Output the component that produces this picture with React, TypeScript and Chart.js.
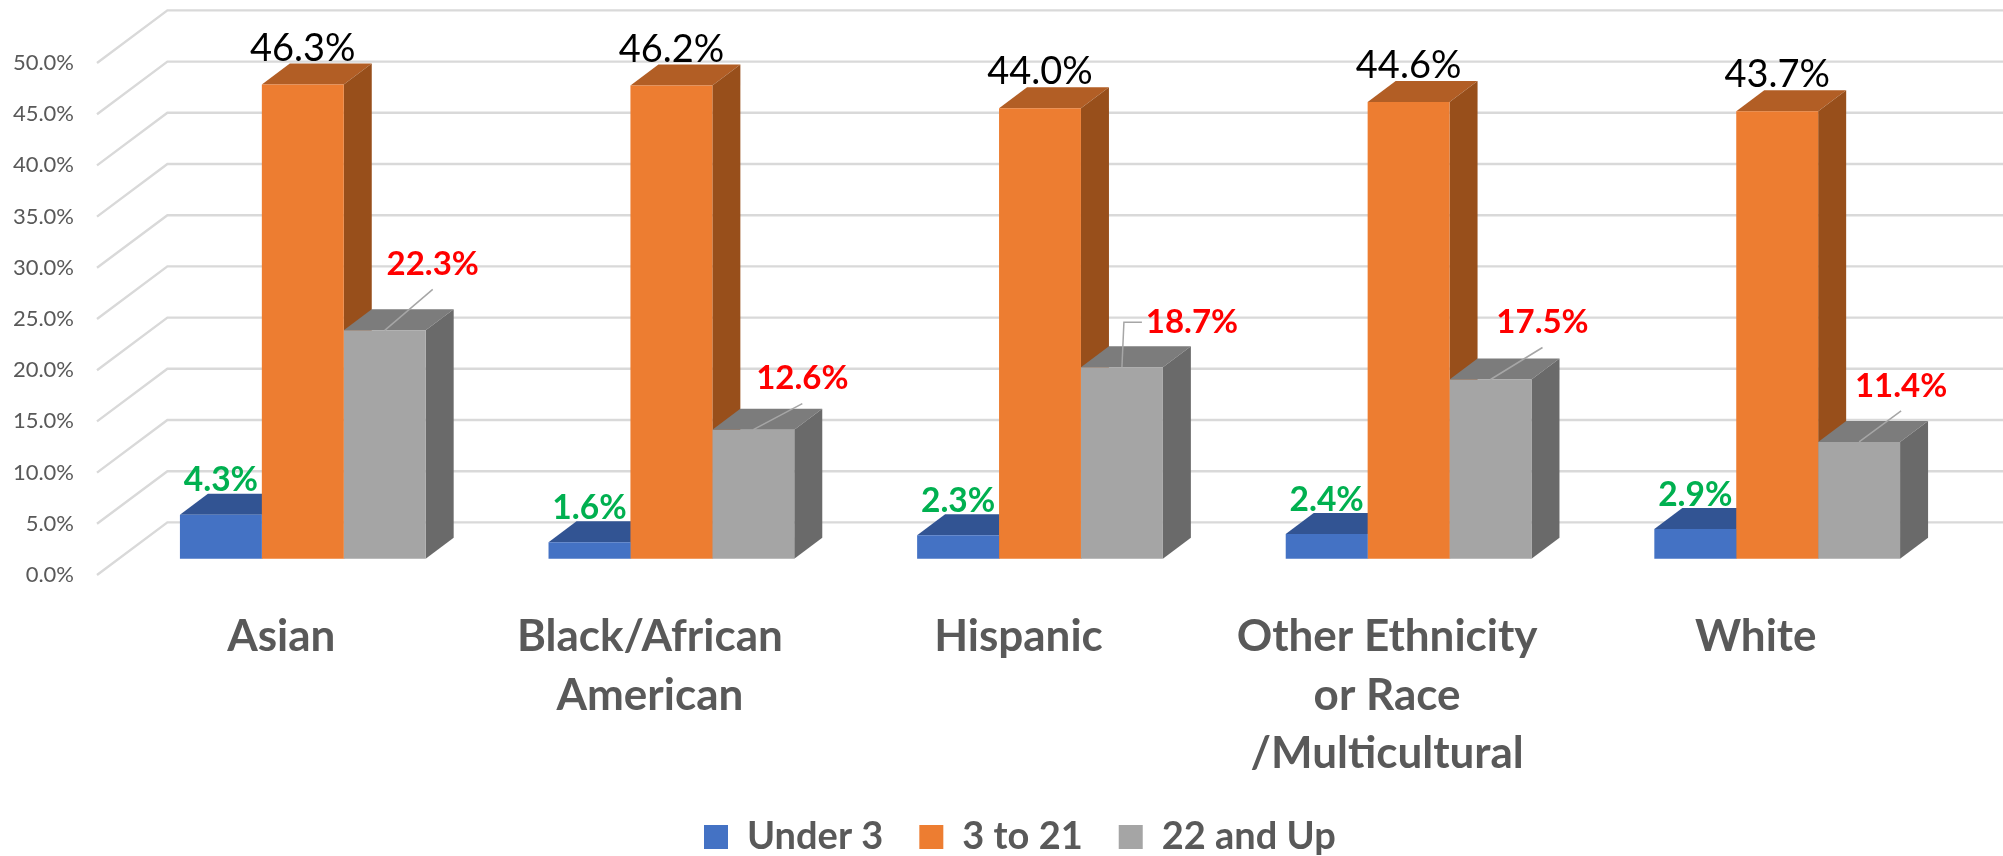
import React, { useEffect, useRef } from "react";
import { Chart, registerables } from "chart.js";

Chart.register(...registerables);

const categories = [
  "Asian",
  ["Black/African", "American"],
  "Hispanic",
  ["Other Ethnicity", "or Race", "/Multicultural"],
  "White",
];
const under3 = [4.3, 1.6, 2.3, 2.4, 2.9];
const age3to21 = [46.3, 46.2, 44.0, 44.6, 43.7];
const age22up = [22.3, 12.6, 18.7, 17.5, 11.4];

const FRONT = ["#4472C4", "#ED7D31", "#A5A5A5"];
const TOP = ["#325493", "#B25E25", "#7C7C7C"];
const SIDE = ["#2A4675", "#984F1B", "#6A6A6A"];

// offsets of the 3D box drawn round the flat chart area
const BAR_SHIFT = { x: 21.5, y: -16.3 };
const BAR_DEPTH = { x: 28, y: -21 };
const BACK_SHIFT = { x: 70.4, y: -52.6 };

// red label placement relative to the top centre of its bar
const redOffsets = [
  { x: 48, y: -66, elbow: false },
  { x: 49, y: -51, elbow: false },
  { x: 70, y: -45, elbow: true },
  { x: 52, y: -57, elbow: false },
  { x: 42, y: -56, elbow: false },
];

const solid3d = {
  id: "solid3d",
  beforeDatasetsDraw(chart: any) {
    const { ctx, chartArea, scales } = chart;
    const y = scales.y;
    ctx.save();
    ctx.strokeStyle = "#D9D9D9";
    ctx.lineWidth = 2.4;
    y.ticks.forEach((t: any) => {
      const py = y.getPixelForValue(t.value);
      ctx.beginPath();
      ctx.moveTo(chartArea.left, py);
      ctx.lineTo(chartArea.left + BACK_SHIFT.x, py + BACK_SHIFT.y);
      ctx.lineTo(chartArea.right + BACK_SHIFT.x, py + BACK_SHIFT.y);
      ctx.stroke();
    });
    ctx.restore();

    ctx.save();
    ctx.translate(BAR_SHIFT.x, BAR_SHIFT.y);
    chart.data.datasets.forEach((_: any, d: number) => {
      chart.getDatasetMeta(d).data.forEach((bar: any) => {
        const l = bar.x - bar.width / 2;
        const r = bar.x + bar.width / 2;
        const t = bar.y;
        const b = bar.base;
        const dx = BAR_DEPTH.x;
        const dy = BAR_DEPTH.y;
        ctx.fillStyle = TOP[d];
        ctx.beginPath();
        ctx.moveTo(l, t);
        ctx.lineTo(r, t);
        ctx.lineTo(r + dx, t + dy);
        ctx.lineTo(l + dx, t + dy);
        ctx.closePath();
        ctx.fill();
        ctx.fillStyle = SIDE[d];
        ctx.beginPath();
        ctx.moveTo(r, t);
        ctx.lineTo(r + dx, t + dy);
        ctx.lineTo(r + dx, b + dy);
        ctx.lineTo(r, b);
        ctx.closePath();
        ctx.fill();
      });
    });
  },
  afterDatasetsDraw(chart: any) {
    const { ctx } = chart;
    ctx.textAlign = "center";
    ctx.textBaseline = "middle";
    chart.getDatasetMeta(0).data.forEach((bar: any, i: number) => {
      ctx.font = "bold 33.5px Lato";
      ctx.fillStyle = "#00B050";
      ctx.fillText(under3[i].toFixed(1) + "%", bar.x, bar.y - 34);
    });
    chart.getDatasetMeta(1).data.forEach((bar: any, i: number) => {
      ctx.font = "38px Lato";
      ctx.fillStyle = "#000000";
      ctx.fillText(age3to21[i].toFixed(1) + "%", bar.x, bar.y - 36);
    });
    chart.getDatasetMeta(2).data.forEach((bar: any, i: number) => {
      const o = redOffsets[i];
      const lx = bar.x + o.x;
      const ly = bar.y + o.y;
      ctx.strokeStyle = "#A6A6A6";
      ctx.lineWidth = 1.5;
      ctx.beginPath();
      ctx.moveTo(bar.x, bar.y);
      if (o.elbow) {
        ctx.lineTo(bar.x + 2, ly);
        ctx.lineTo(lx - 50, ly);
      } else {
        ctx.lineTo(lx, ly + 25);
      }
      ctx.stroke();
      ctx.font = "bold 33px Lato";
      ctx.fillStyle = "#FF0000";
      ctx.fillText(age22up[i].toFixed(1) + "%", lx, ly);
    });
    ctx.restore();
  },
  afterUpdate(chart: any) {
    // the tick labels may use the whole height below the axis
    chart.scales.x.bottom = chart.height;
    const legend = chart.legend;
    if (!legend || !legend.legendHitBoxes.length) return;
    const dx = 704 - legend.legendHitBoxes[0].left;
    legend.left += dx;
    legend.right += dx;
    const pad = legend.options.labels.padding;
    const top = 818 - pad;
    legend.bottom += top - legend.top;
    legend.top = top;
  },
};

export default function App() {
  const ref = useRef<HTMLCanvasElement>(null);
  useEffect(() => {
    document.body.style.margin = "0";
    const chart = new Chart(ref.current as HTMLCanvasElement, {
      type: "bar",
      data: {
        labels: categories as any,
        datasets: [
          { label: "Under 3", data: under3, backgroundColor: FRONT[0] },
          { label: "3 to 21", data: age3to21, backgroundColor: FRONT[1] },
          { label: "22 and Up", data: age22up, backgroundColor: FRONT[2] },
        ],
      },
      plugins: [solid3d],
      options: {
        responsive: false,
        animation: false,
        layout: { padding: { top: 63, right: 63, left: 0, bottom: 0 } },
        datasets: { bar: { categoryPercentage: 0.6667, barPercentage: 1, clip: false } as any },
        scales: {
          x: {
            grid: { display: false, drawTicks: false },
            border: { display: false },
            afterFit: (s: any) => {
              s.height = 197;
            },
            ticks: {
              autoSkip: false,
              maxRotation: 0,
              minRotation: 0,
              padding: 33,
              color: "#595959",
              font: { family: "Lato", size: 44, weight: "bold", lineHeight: "58.3px" },
            },
          },
          y: {
            min: 0,
            max: 50,
            grid: { display: false, drawTicks: false },
            border: { display: false },
            afterFit: (s: any) => {
              s.width = 97;
            },
            ticks: {
              stepSize: 5,
              padding: 23,
              color: "#595959",
              font: { family: "Lato", size: 22 },
              callback: (v: any) => Number(v).toFixed(1) + "%",
            },
          },
        },
        plugins: {
          tooltip: { enabled: false },
          legend: {
            position: "bottom",
            labels: {
              boxWidth: 24,
              boxHeight: 24,
              padding: 36,
              color: "#595959",
              font: { family: "Lato", size: 38, weight: "bold" },
            },
          },
        },
      },
    });
    return () => chart.destroy();
  }, []);
  return <canvas ref={ref} width={2003} height={856} style={{ display: "block" }} />;
}
